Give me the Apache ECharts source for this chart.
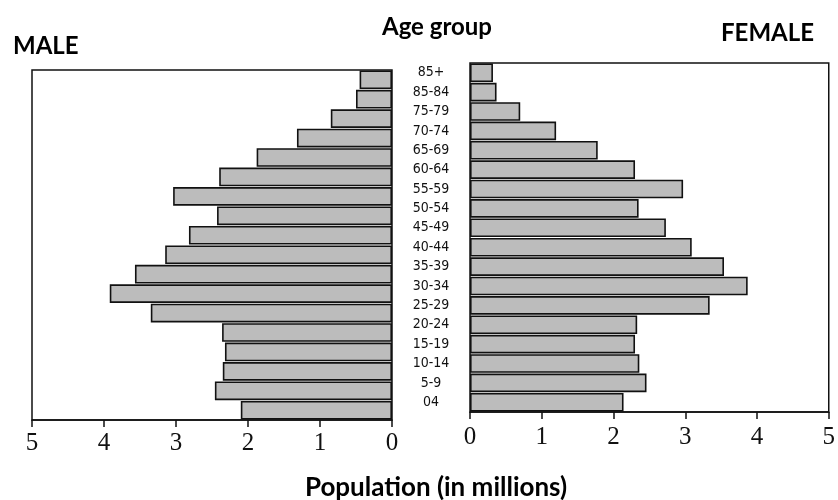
<!DOCTYPE html>
<html>
<head>
<meta charset="utf-8">
<script src="https://cdn.jsdelivr.net/npm/echarts@6/dist/echarts.min.js"></script>
<style>html,body{margin:0;padding:0;background:#fff}#c{width:838px;height:500px}</style>
</head>
<body>
<div id="c"></div>
<script>
// Age groups, bottom to top (as printed in the source)
var ageGroups = ["04","5-9","10-14","15-19","20-24","25-29","30-34","35-39","40-44","45-49","50-54","55-59","60-64","65-69","70-74","75-79","85-84","85+"];
// Population in millions
var male   = [2.1, 2.46, 2.35, 2.32, 2.36, 3.35, 3.92, 3.57, 3.15, 2.82, 2.43, 3.04, 2.4, 1.88, 1.32, 0.85, 0.5, 0.45];
var female = [2.14, 2.46, 2.36, 2.3, 2.33, 3.34, 3.87, 3.54, 3.09, 2.73, 2.35, 2.97, 2.3, 1.78, 1.2, 0.7, 0.37, 0.32];
var axisMin = 0, axisMax = 5, axisStep = 1;

var chart = echarts.init(document.getElementById('c'), null, {renderer: 'canvas'});
var tickFont = {color: '#111', fontFamily: 'Liberation Serif', fontSize: 25};
var barStyle = {color: '#bcbcbc', borderColor: '#111', borderWidth: 1.6};
var titleStyle = {fontFamily: 'Lato', fontWeight: 'bold', fontSize: 24, color: '#000'};
var bigTitleStyle = {fontFamily: 'Lato', fontWeight: 'bold', fontSize: 26, color: '#000'};

chart.setOption({
  animation: false,
  backgroundColor: '#fff',
  title: [
    {text: 'MALE', left: 8, top: 29, textStyle: titleStyle},
    {text: 'Age group', left: 432, top: 10, textAlign: 'center', textStyle: titleStyle},
    {text: 'FEMALE', left: 716, top: 16, textStyle: titleStyle},
    {text: 'Population (in millions)', left: 431, top: 470, textAlign: 'center', textStyle: bigTitleStyle}
  ],
  grid: [
    {left: 32, right: 446, top: 70, height: 350, show: true, borderColor: '#111', borderWidth: 1.5},
    {left: 470, right: 6, top: 63, height: 349, show: true, borderColor: '#111', borderWidth: 1.5}
  ],
  xAxis: [
    {gridIndex: 0, type: 'value', inverse: true, min: axisMin, max: axisMax, interval: axisStep,
     axisLine: {show: true, lineStyle: {color: '#111', width: 1.5}},
     axisTick: {show: true, length: 7, lineStyle: {color: '#111', width: 1.5}},
     axisLabel: {show: true, margin: 11, ...tickFont},
     splitLine: {show: false}},
    {gridIndex: 1, type: 'value', min: axisMin, max: axisMax, interval: axisStep,
     axisLine: {show: true, lineStyle: {color: '#111', width: 1.5}},
     axisTick: {show: true, length: 7, lineStyle: {color: '#111', width: 1.5}},
     axisLabel: {show: true, margin: 13, ...tickFont},
     splitLine: {show: false}}
  ],
  yAxis: [
    {gridIndex: 0, type: 'category', data: ageGroups,
     axisLine: {show: false}, axisTick: {show: false}, axisLabel: {show: false}},
    {gridIndex: 1, type: 'category', data: ageGroups,
     axisLine: {show: false}, axisTick: {show: false},
     axisLabel: {show: true, align: 'center', margin: 39, color: '#111',
                 fontFamily: 'DejaVu Sans Condensed', fontSize: 14}}
  ],
  series: [
    {type: 'bar', name: 'Male', xAxisIndex: 0, yAxisIndex: 0, data: male,
     barCategoryGap: '4%', itemStyle: barStyle},
    {type: 'bar', name: 'Female', xAxisIndex: 1, yAxisIndex: 1, data: female,
     barCategoryGap: '4%', itemStyle: barStyle}
  ]
});
</script>
</body>
</html>
